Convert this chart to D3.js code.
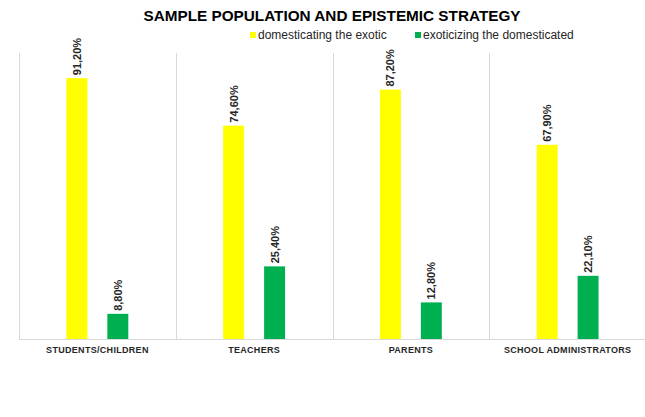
<!DOCTYPE html>
<html>
<head>
<meta charset="utf-8">
<script src="https://cdn.jsdelivr.net/npm/d3@7"></script>
<style>
  html, body { margin: 0; padding: 0; background: #fff; }
  svg { display: block; }
</style>
</head>
<body>
<svg id="chart" width="645" height="417"></svg>
<script>
// Sample populations and share of each epistemic strategy (%)
const categories = ["STUDENTS/CHILDREN", "TEACHERS", "PARENTS", "SCHOOL ADMINISTRATORS"];
const seriesNames = ["domesticating the exotic", "exoticizing the domesticated"];
const domesticatingValues = [91.2, 74.6, 87.2, 67.9];
const exoticizingValues = [8.8, 25.4, 12.8, 22.1];
const seriesColors = ["#FFFF00", "#00B050"];

const series = [domesticatingValues, exoticizingValues];

const svg = d3.select("#chart");
const W = 645, H = 417;
const plot = { left: 19, right: 646, top: 53, bottom: 339 };

const x0 = d3.scaleBand().domain(categories).range([plot.left, plot.right]).padding(0);
const x1 = d3.scaleBand().domain(d3.range(series.length))
  .range([0, x0.bandwidth()]).paddingInner(0.488).paddingOuter(1.159);
const y = d3.scaleLinear().domain([0, 100]).range([plot.bottom, plot.top]);

const fmt = v => d3.format(".2f")(v).replace(".", ",") + "%";

// Category separators
const grid = svg.append("g").attr("stroke", "#D9D9D9").attr("stroke-width", 1);
categories.forEach(c => {
  const xx = Math.round(x0(c)) + 0.5;
  grid.append("line").attr("x1", xx).attr("x2", xx).attr("y1", plot.top).attr("y2", plot.bottom);
});

// Bars
const groups = svg.append("g").selectAll("g").data(categories).join("g")
  .attr("transform", c => `translate(${x0(c)},0)`);

series.forEach((vals, si) => {
  groups.append("rect")
    .attr("x", x1(si))
    .attr("width", x1.bandwidth())
    .attr("y", (c, i) => y(vals[i]))
    .attr("height", (c, i) => plot.bottom - y(vals[i]))
    .attr("fill", seriesColors[si]);

  groups.append("text")
    .attr("transform", (c, i) => `translate(${x1(si) + x1.bandwidth() / 2 + 4},${y(vals[i]) - 3}) rotate(-90)`)
    .attr("font-family", "Liberation Sans, Arial, sans-serif")
    .attr("font-weight", "bold")
    .attr("font-size", 11)
    .attr("fill", "#262626")
    .text((c, i) => fmt(vals[i]));
});

// Baseline axis
const xAxis = d3.axisBottom(x0).tickSize(0).tickPadding(8);
const axisG = svg.append("g").attr("transform", `translate(0,${plot.bottom})`).call(xAxis);
axisG.select(".domain").attr("stroke", "#D9D9D9").attr("d", `M${plot.left},0.5H${W}`);
axisG.selectAll("text")
  .attr("font-family", "Liberation Sans, Arial, sans-serif")
  .attr("font-weight", "bold")
  .attr("font-size", 9)
  .attr("letter-spacing", 0.3)
  .attr("fill", "#262626");

// Title
svg.append("text")
  .attr("x", 332).attr("y", 21)
  .attr("text-anchor", "middle")
  .attr("font-family", "Liberation Sans, Arial, sans-serif")
  .attr("font-weight", "bold")
  .attr("font-size", 15.3)
  .attr("fill", "#000")
  .text("SAMPLE POPULATION AND EPISTEMIC STRATEGY");

// Legend
const legendX = [250, 415];
const legend = svg.append("g").selectAll("g").data(seriesNames).join("g")
  .attr("transform", (d, i) => `translate(${legendX[i]},35)`);
legend.append("rect").attr("x", 0).attr("y", -3).attr("width", 6).attr("height", 6)
  .attr("fill", (d, i) => seriesColors[i]);
legend.append("text").attr("x", 8).attr("y", 4)
  .attr("font-family", "Liberation Sans, Arial, sans-serif")
  .attr("font-size", 12)
  .attr("fill", "#262626")
  .text(d => d);
</script>
</body>
</html>
